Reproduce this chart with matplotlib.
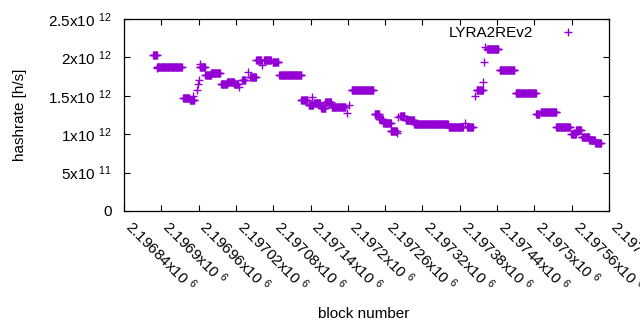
import numpy as np
import matplotlib
matplotlib.use('Agg')
import matplotlib.pyplot as plt

plt.rcParams['font.family'] = ['Liberation Sans', 'DejaVu Sans']
plt.rcParams['mathtext.fontset'] = 'custom'
plt.rcParams['mathtext.rm'] = 'Liberation Sans'
plt.rcParams['mathtext.it'] = 'Liberation Sans'

# runs of blocks with the same hashrate (first block, last block, hashrate)
run_start = [2196887, 2196893, 2196893, 2196935, 2196946, 2196951, 2196957, 2196959,
             2196961, 2196962, 2196962, 2196971, 2196980, 2196996, 2197006, 2197017,
             2197025, 2197030, 2197039, 2197043, 2197053, 2197062, 2197065, 2197079,
             2197090, 2197125, 2197137, 2197143, 2197145, 2197157, 2197164, 2197174,
             2197190, 2197199, 2197202, 2197206, 2197243, 2197250, 2197257, 2197269,
             2197279, 2197281, 2197284, 2197293, 2197307, 2197362, 2197367, 2197389,
             2197392, 2197404, 2197407, 2197417, 2197419, 2197420, 2197424, 2197444,
             2197470, 2197503, 2197510, 2197535, 2197559, 2197567, 2197576, 2197588,
             2197598]
run_end = [2196893, 2196893, 2196933, 2196945, 2196953, 2196951, 2196957, 2196959,
           2196961, 2196962, 2196970, 2196980, 2196994, 2197006, 2197017, 2197023,
           2197025, 2197035, 2197039, 2197052, 2197060, 2197062, 2197076, 2197088,
           2197125, 2197135, 2197144, 2197143, 2197155, 2197164, 2197173, 2197189,
           2197196, 2197199, 2197202, 2197241, 2197250, 2197256, 2197269, 2197279,
           2197279, 2197281, 2197291, 2197306, 2197361, 2197367, 2197385, 2197389,
           2197401, 2197404, 2197417, 2197417, 2197419, 2197420, 2197442, 2197468,
           2197502, 2197508, 2197535, 2197557, 2197567, 2197575, 2197588, 2197597,
           2197607]
run_hash = [2.03, 1.86, 1.87, 1.47, 1.44, 1.50, 1.58, 1.65,
            1.71, 1.91, 1.87, 1.77, 1.80, 1.65, 1.68, 1.66,
            1.61, 1.71, 1.81, 1.74, 1.97, 1.90, 1.96, 1.94,
            1.77, 1.45, 1.38, 1.48, 1.40, 1.34, 1.42, 1.36,
            1.35, 1.28, 1.38, 1.57, 1.26, 1.20, 1.15, 1.04,
            1.01, 1.22, 1.24, 1.18, 1.13, 1.09, 1.10, 1.14,
            1.09, 1.50, 1.57, 1.68, 1.94, 2.14, 2.11, 1.84,
            1.53, 1.26, 1.29, 1.10, 1.00, 1.05, 0.97, 0.93,
            0.89]  # x10^12 h/s

blocks = []
hashrate = []
for s, e, h in zip(run_start, run_end, run_hash):
    b = np.arange(s, e + 1)
    blocks.extend(b)
    hashrate.extend([h * 1e12] * len(b))

xticks = np.arange(2196840, 2197621, 60)
yticks = np.arange(0, 2.51e12, 5e11)
ylabels = ['0', r'5x10 $^{11}$', r'1x10 $^{12}$', r'1.5x10 $^{12}$', r'2x10 $^{12}$', r'2.5x10 $^{12}$']

fs = 11
fig = plt.figure(figsize=(6.4, 3.3), dpi=100)
ax = fig.add_axes([124/640, 1 - 211/330, (609-124)/640, (211-19)/330])

ax.plot(blocks, hashrate, '+', color='#9400D3', markersize=5.5, markeredgewidth=1.0,
        label='LYRA2REv2')

ax.set_xlim(2196840, 2197620)
ax.set_ylim(0, 2.5e12)

ax.set_xticks(xticks)
xlabels = []
for t in xticks:
    s = ('%g' % (t / 1e6))
    xlabels.append(s + r'x10 $^{6}$')
ax.set_xticklabels(xlabels, rotation=-45, ha='left', va='baseline', rotation_mode='anchor',
                   fontsize=fs)

ax.set_yticks(yticks)
ax.set_yticklabels(ylabels, fontsize=fs)

ax.tick_params(direction='in', top=True, right=True, length=4, width=0.8)
ax.tick_params(axis='x', pad=12.5)
ax.tick_params(axis='y', pad=9)
for sp in ax.spines.values():
    sp.set_linewidth(0.9)

ax.set_ylabel('hashrate [h/s]', fontsize=fs)
ax.yaxis.set_label_coords(-0.200, 0.5)
ax.set_xlabel('block number', fontsize=fs)
ax.xaxis.set_label_coords(0.495, -0.50)

ax.legend(loc='upper right', bbox_to_anchor=(0.9464, 0.964), markerfirst=False,
          frameon=False, fontsize=fs, handlelength=2, borderaxespad=0, borderpad=0,
          handletextpad=1.26)

fig.savefig('out.png', dpi=100)
